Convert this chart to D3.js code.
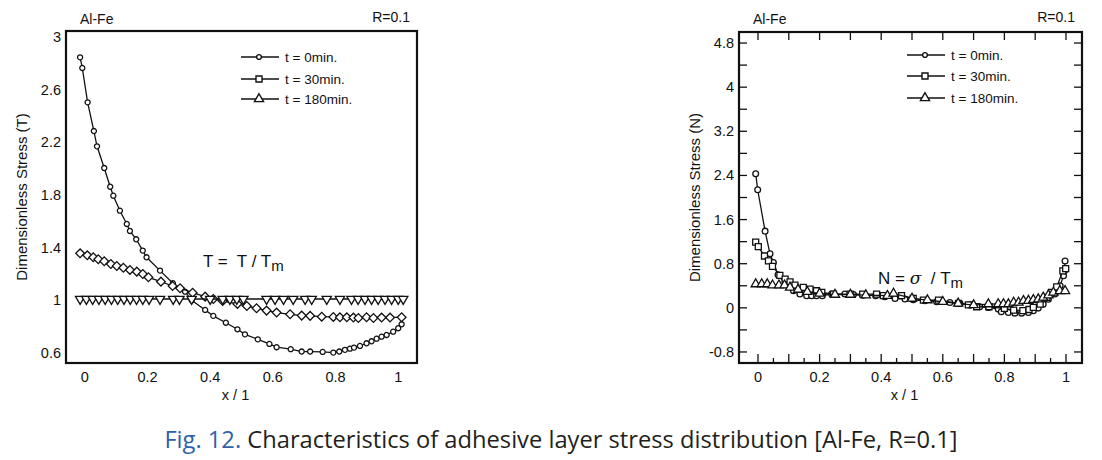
<!DOCTYPE html>
<html>
<head>
<meta charset="utf-8">
<script src="https://cdn.jsdelivr.net/npm/d3@7"></script>
<style>
  body { margin: 0; background: #fff; }
</style>
</head>
<body>
<svg id="chart" width="1102" height="460" font-family="'Liberation Sans', Arial, Helvetica, sans-serif"></svg>
<script>
// ---- data ----
// left panel: shear stress T
const tX0 = [-0.015, -0.008, 0.009, 0.029, 0.039, 0.062, 0.081, 0.091, 0.112, 0.134, 0.144, 0.164, 0.185, 0.197, 0.24, 0.281, 0.32, 0.341, 0.384, 0.41, 0.45, 0.487, 0.511, 0.552, 0.589, 0.612, 0.657, 0.692, 0.719, 0.759, 0.793, 0.812, 0.83, 0.846, 0.859, 0.878, 0.899, 0.915, 0.931, 0.947, 0.963, 0.984, 1.0, 1.011]
const tY0 = [2.846, 2.765, 2.504, 2.286, 2.17, 2.005, 1.863, 1.795, 1.681, 1.58, 1.527, 1.464, 1.378, 1.327, 1.226, 1.13, 1.066, 1.0, 0.927, 0.882, 0.83, 0.78, 0.742, 0.704, 0.669, 0.644, 0.629, 0.611, 0.611, 0.608, 0.603, 0.611, 0.624, 0.633, 0.641, 0.654, 0.674, 0.689, 0.709, 0.724, 0.737, 0.762, 0.788, 0.818]

const tX30 = [-0.015, 0.008, 0.027, 0.043, 0.062, 0.083, 0.102, 0.123, 0.144, 0.166, 0.185, 0.203, 0.243, 0.28, 0.304, 0.344, 0.384, 0.41, 0.44, 0.487, 0.517, 0.548, 0.58, 0.612, 0.655, 0.692, 0.719, 0.756, 0.793, 0.814, 0.836, 0.857, 0.873, 0.899, 0.921, 0.947, 0.974, 1.011]
const tY30 = [1.357, 1.342, 1.327, 1.312, 1.297, 1.276, 1.261, 1.248, 1.231, 1.218, 1.2, 1.175, 1.142, 1.109, 1.092, 1.058, 1.028, 1.01, 0.995, 0.973, 0.957, 0.94, 0.922, 0.907, 0.894, 0.884, 0.882, 0.876, 0.874, 0.871, 0.871, 0.869, 0.866, 0.872, 0.866, 0.869, 0.869, 0.872]

const tX180 = [-0.015, 0.005, 0.025, 0.045, 0.065, 0.085, 0.105, 0.125, 0.145, 0.165, 0.185, 0.205, 0.24, 0.282, 0.302, 0.341, 0.4, 0.44, 0.463, 0.485, 0.506, 0.58, 0.607, 0.634, 0.665, 0.703, 0.724, 0.772, 0.814, 0.851, 0.872, 0.894, 0.915, 0.936, 0.958, 0.979, 1.0, 1.016]
const tY180 = [1.01, 1.01, 1.01, 1.01, 1.01, 1.01, 1.01, 1.01, 1.01, 1.01, 1.01, 1.01, 1.01, 1.01, 1.01, 1.01, 1.01, 1.01, 1.01, 1.01, 1.01, 1.01, 1.01, 1.01, 1.01, 1.01, 1.01, 1.01, 1.01, 1.01, 1.01, 1.01, 1.01, 1.01, 1.01, 1.01, 1.01, 1.01]

// right panel: normal stress N
const nX0 = [-0.0075, -0.001, 0.023, 0.039, 0.05, 0.065, 0.088, 0.115, 0.136, 0.158, 0.174, 0.19, 0.209, 0.239, 0.282, 0.31, 0.342, 0.382, 0.412, 0.445, 0.477, 0.504, 0.542, 0.58, 0.623, 0.656, 0.688, 0.72, 0.748, 0.78, 0.79, 0.813, 0.834, 0.856, 0.878, 0.894, 0.91, 0.926, 0.943, 0.964, 0.981, 0.992, 0.995, 0.997]
const nY0 = [2.43, 2.14, 1.39, 0.98, 0.82, 0.6, 0.43, 0.31, 0.25, 0.22, 0.22, 0.22, 0.22, 0.25, 0.25, 0.24, 0.23, 0.22, 0.2, 0.17, 0.16, 0.145, 0.127, 0.11, 0.097, 0.08, 0.054, 0.018, 0.007, -0.023, -0.07, -0.083, -0.096, -0.096, -0.083, -0.054, -0.005, 0.067, 0.157, 0.25, 0.4, 0.58, 0.67, 0.85]

const nX30 = [-0.0075, 0.001, 0.021, 0.034, 0.047, 0.071, 0.088, 0.104, 0.12, 0.147, 0.169, 0.19, 0.207, 0.245, 0.299, 0.34, 0.385, 0.407, 0.466, 0.504, 0.537, 0.586, 0.651, 0.683, 0.71, 0.75, 0.8, 0.83, 0.86, 0.88, 0.894, 0.916, 0.938, 0.953, 0.97, 0.99, 0.999]
const nY30 = [1.19, 1.11, 0.94, 0.85, 0.75, 0.59, 0.52, 0.47, 0.41, 0.37, 0.34, 0.31, 0.28, 0.25, 0.25, 0.25, 0.25, 0.22, 0.22, 0.17, 0.14, 0.14, 0.08, 0.054, 0.02, 0.02, -0.01, -0.04, -0.05, -0.03, 0.007, 0.067, 0.19, 0.28, 0.38, 0.67, 0.71]

const nX180 = [-0.0075, 0.012, 0.03, 0.047, 0.068, 0.086, 0.104, 0.13, 0.16, 0.2, 0.25, 0.3, 0.35, 0.42, 0.44, 0.5, 0.55, 0.6, 0.65, 0.7, 0.748, 0.78, 0.797, 0.813, 0.83, 0.846, 0.862, 0.878, 0.894, 0.91, 0.926, 0.943, 0.959, 0.98, 0.997]
const nY180 = [0.43, 0.43, 0.43, 0.41, 0.41, 0.41, 0.37, 0.33, 0.29, 0.26, 0.24, 0.24, 0.23, 0.22, 0.26, 0.17, 0.14, 0.11, 0.08, 0.05, 0.067, 0.07, 0.07, 0.067, 0.097, 0.097, 0.127, 0.13, 0.145, 0.157, 0.188, 0.23, 0.278, 0.307, 0.307]

const legendLabels = ['t = 0min.', 't = 30min.', 't = 180min.']
const xTicks = [0, 0.2, 0.4, 0.6, 0.8, 1]
const tTicks = [0.6, 1, 1.4, 1.8, 2.2, 2.6, 3]
const nTicks = [-0.8, 0, 0.8, 1.6, 2.4, 3.2, 4, 4.8]

const svg = d3.select('#chart')

const zip = (xs, ys) => xs.map((x, i) => ({ x: x, y: ys[i] }))

function drawPanel(opt) {
    const g = svg.append('g').attr('fill', '#111')
    const x = d3.scaleLinear().domain(opt.xDomain).range([opt.left, opt.right])
    const y = d3.scaleLinear().domain(opt.yDomain).range([opt.bottom, opt.top])

    // frame ticks (right panel only)
    if (opt.ticks) {
        const yt = d3.range(-0.8, 5.0, 0.4)
        const xt = d3.range(0, 1.001, 0.1)
        g.selectAll('.yt').data(yt).join('line')
            .attr('x1', opt.left).attr('x2', opt.left + 8)
            .attr('y1', d => y(d)).attr('y2', d => y(d))
            .attr('stroke', '#111').attr('stroke-width', 1.3)
        g.selectAll('.yt2').data(yt).join('line')
            .attr('x1', opt.right).attr('x2', opt.right - 8)
            .attr('y1', d => y(d)).attr('y2', d => y(d))
            .attr('stroke', '#111').attr('stroke-width', 1.3)
        g.selectAll('.xt').data(xt).join('line')
            .attr('x1', d => x(d)).attr('x2', d => x(d))
            .attr('y1', opt.top).attr('y2', opt.top + 8)
            .attr('stroke', '#111').attr('stroke-width', 1.3)
        g.selectAll('.xb').data(d3.range(0, 1.001, 0.05)).join('line')
            .attr('x1', d => x(d)).attr('x2', d => x(d))
            .attr('y1', opt.bottom).attr('y2', (d, i) => opt.bottom - (i % 2 ? 5 : 9))
            .attr('stroke', '#111').attr('stroke-width', 1.3)
    }

    // frame
    g.append('rect')
        .attr('x', opt.left).attr('y', opt.top)
        .attr('width', opt.right - opt.left).attr('height', opt.bottom - opt.top)
        .attr('fill', 'none').attr('stroke', '#111').attr('stroke-width', 2.2)

    // tick labels
    g.selectAll('.xl').data(xTicks).join('text')
        .attr('x', d => x(d)).attr('y', opt.bottom + 19)
        .attr('text-anchor', 'middle').attr('font-size', '14.5px')
        .text(d => d)
    g.selectAll('.yl').data(opt.yTicks).join('text')
        .attr('x', opt.left - 5).attr('y', d => y(d) + 5)
        .attr('text-anchor', 'end').attr('font-size', '14.5px')
        .text(d => d)

    // axis titles
    g.append('text')
        .attr('x', (opt.left + opt.right) / 2 - 6).attr('y', opt.bottom + 37)
        .attr('text-anchor', 'middle').attr('font-size', '14.5px')
        .text('x / 1')
    g.append('text')
        .attr('transform', `translate(${opt.left - 39},${(opt.top + opt.bottom) / 2}) rotate(-90)`)
        .attr('text-anchor', 'middle').attr('font-size', '15px')
        .text(opt.yTitle)

    g.append('text').attr('x', opt.left + 14).attr('y', 24).attr('font-size', '14px').text('Al-Fe')
    g.append('text').attr('x', opt.right - 7).attr('y', 22).attr('text-anchor', 'end').attr('font-size', '14px').text('R=0.1')

    // series
    const line = d3.line().x(d => x(d.x)).y(d => y(d.y))
    opt.series.forEach(s => {
        const pts = zip(s.xs, s.ys)
        g.append('path').datum(pts)
            .attr('d', line).attr('fill', 'none')
            .attr('stroke', '#111').attr('stroke-width', 1.3)
        g.selectAll(null).data(pts).join('path')
            .attr('d', d3.symbol().type(s.symbol).size(s.size))
            .attr('transform', d => `translate(${x(d.x)},${y(d.y)}) rotate(${s.rot || 0})`)
            .attr('fill', '#fff').attr('stroke', '#111').attr('stroke-width', 1.3)
    })

    // legend
    const legSym = [[d3.symbolCircle, 18], [d3.symbolSquare, 36], [d3.symbolTriangle, 36]]
    legendLabels.forEach((lab, i) => {
        const ly = opt.legY[i]
        g.append('line')
            .attr('x1', opt.legX).attr('x2', opt.legX + 38)
            .attr('y1', ly).attr('y2', ly)
            .attr('stroke', '#111').attr('stroke-width', 1.4)
        g.append('path')
            .attr('d', d3.symbol().type(legSym[i][0]).size(legSym[i][1]))
            .attr('transform', `translate(${opt.legX + 18},${ly})`)
            .attr('fill', '#fff').attr('stroke', '#111').attr('stroke-width', 1.4)
        g.append('text')
            .attr('x', opt.legX + 44).attr('y', ly + 5)
            .attr('font-size', '13.5px')
            .text(lab)
    })

    // formula annotation
    const ann = g.append('text')
        .attr('x', opt.annX).attr('y', opt.annY)
        .attr('font-size', '17px')
        .style('white-space', 'pre')
    opt.annParts.forEach(p => {
        const t = ann.append('tspan').text(p.t)
        if (p.sub) t.attr('dy', 4).attr('font-size', '15px')
        if (p.it) t.attr('font-style', 'italic').attr('font-family', 'DejaVu Serif, serif')
    })
}

drawPanel({
    left: 66, right: 417, top: 31, bottom: 363,
    xDomain: [-0.06, 1.06], yDomain: [0.524, 3.046],
    yTicks: tTicks, ticks: false,
    yTitle: 'Dimensionless Stress (T)',
    legX: 241, legY: [57, 79, 99],
    annX: 203, annY: 267,
    annParts: [{ t: 'T =  T / T' }, { t: 'm', sub: true }],
    series: [
        { xs: tX0, ys: tY0, symbol: d3.symbolCircle, size: 20 },
        { xs: tX30, ys: tY30, symbol: d3.symbolSquare, size: 38, rot: 45 },
        { xs: tX180, ys: tY180, symbol: d3.symbolTriangle, size: 38, rot: 180 }
    ]
})

drawPanel({
    left: 739, right: 1082, top: 32, bottom: 363,
    xDomain: [-0.0617, 1.052], yDomain: [-1, 5],
    yTicks: nTicks, ticks: true,
    yTitle: 'Dimensionless Stress (N)',
    legX: 907, legY: [55, 76, 98],
    annX: 878, annY: 284,
    annParts: [{ t: 'N = ' }, { t: 'σ', it: true }, { t: '  / T' }, { t: 'm', sub: true }],
    series: [
        { xs: nX0, ys: nY0, symbol: d3.symbolCircle, size: 26 },
        { xs: nX30, ys: nY30, symbol: d3.symbolSquare, size: 36 },
        { xs: nX180, ys: nY180, symbol: d3.symbolTriangle, size: 36 }
    ]
})

// caption
const cap = svg.append('text')
    .attr('x', 561).attr('y', 448)
    .attr('text-anchor', 'middle')
    .attr('font-size', '23.7px')
    .attr('font-family', '"Open Sans", sans-serif')
cap.append('tspan').text('Fig. 12.').attr('fill', '#2f63a8')
cap.append('tspan').text(' Characteristics of adhesive layer stress distribution [Al-Fe, R=0.1]').attr('fill', '#231f20')
</script>
</body>
</html>
